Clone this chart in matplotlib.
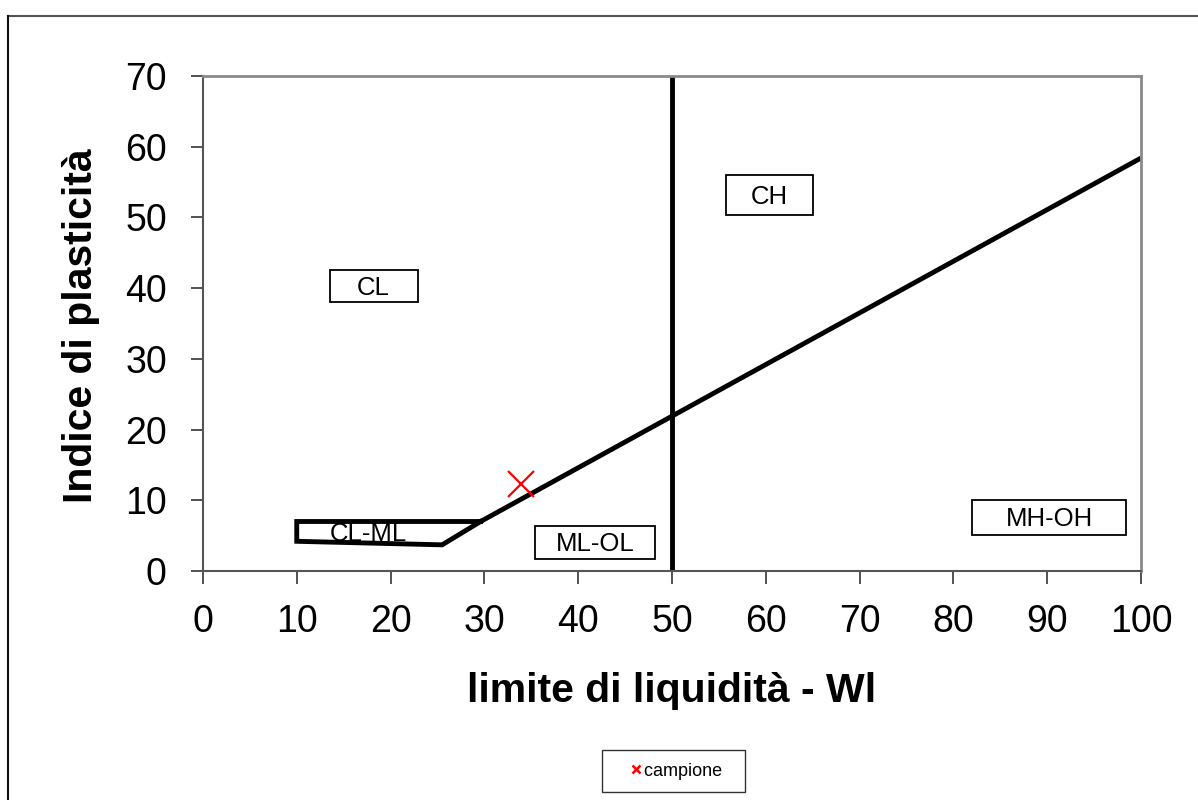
import matplotlib.pyplot as plt
from matplotlib.lines import Line2D
from matplotlib.patches import Rectangle

plt.rcParams['font.family'] = ['Liberation Sans', 'DejaVu Sans']

# A-line and CL-ML band
a_line_x = [29.6, 100]
a_line_y = [7.0, 58.4]
clml_x = [29.6, 10, 10, 25.5, 29.6]
clml_y = [7.0, 7.0, 4.2, 3.7, 7.0]
vline_x = [50, 50]
vline_y = [0, 70]

# sample
sample_x = [33.9]
sample_y = [12.3]

# zone labels
zone_names = ['CL', 'CH', 'ML-OL', 'MH-OH']
zone_x = [18.2, 60.4, 41.8, 90.2]
zone_y = [40.3, 53.2, 4.05, 7.6]
# label box sizes (data units)
box_w = [9.4, 9.2, 12.7, 16.5]
box_h = [4.5, 5.7, 4.7, 4.9]

fig = plt.figure(figsize=(11.98, 8), dpi=100)
ax = fig.add_axes([0.1694, 0.28625, 0.783, 0.61875])

ax.plot(a_line_x, a_line_y, color='black', lw=3.5, solid_capstyle='butt')
ax.plot(clml_x, clml_y, color='black', lw=3.5, solid_joinstyle='miter')
ax.plot(vline_x, vline_y, color='black', lw=3.5, solid_capstyle='butt')
ax.plot(sample_x, sample_y, 'x', color='red', ms=19, mew=1.6, zorder=5)

for name, x, y, w, h in zip(zone_names, zone_x, zone_y, box_w, box_h):
    ax.add_patch(Rectangle((x - w / 2, y - h / 2), w, h, fc='white', ec='black', lw=1.3, zorder=3))
    ax.text(x, y - 0.25, name, ha='center', va='center', fontsize=18.5, zorder=4)
ax.text(17.6, 5.3, 'CL-ML', ha='center', va='center', fontsize=18.5)

ax.set_xlim(0, 100)
ax.set_ylim(0, 70)
ax.set_xticks(range(0, 101, 10))
ax.set_yticks(range(0, 71, 10))
ax.tick_params(labelsize=27, length=9, width=1.2, color='#333333', direction='out')
ax.tick_params(axis='y', pad=17)
ax.tick_params(axis='x', pad=15)
for s in ['top', 'right']:
    ax.spines[s].set_color('#8a8a8a')
    ax.spines[s].set_linewidth(2)
for s in ['left', 'bottom']:
    ax.spines[s].set_color('#555555')
    ax.spines[s].set_linewidth(1.5)

ax.set_xlabel('limite di liquidità - Wl', fontsize=29.5, fontweight='bold')
ax.set_ylabel('Indice di plasticità', fontsize=29.5, fontweight='bold')
ax.xaxis.label.set_va('center')
ax.yaxis.label.set_va('center')
ax.xaxis.set_label_coords(0.5, -0.243)
ax.yaxis.set_label_coords(-0.13, 0.495)

# legend
handle = Line2D([], [], marker='x', color='red', ls='none', ms=6, mew=1.8)
leg = fig.legend([handle], ['campione  '], loc='center', bbox_to_anchor=(0.5618, 0.036),
                 fontsize=13, fancybox=False, handlelength=2.38, handletextpad=-0.74,
                 borderpad=0.7, borderaxespad=0, framealpha=1)
leg.get_frame().set_edgecolor('#333333')
leg.get_frame().set_linewidth(1)

# outer chart frame
fig.add_artist(Line2D([8 / 1198, 1], [1 - 16 / 800, 1 - 16 / 800], color='#555555', lw=1.5))
fig.add_artist(Line2D([8 / 1198, 8 / 1198], [0, 1 - 16 / 800], color='#111111', lw=1.5))

fig.savefig('out.png', dpi=100)
